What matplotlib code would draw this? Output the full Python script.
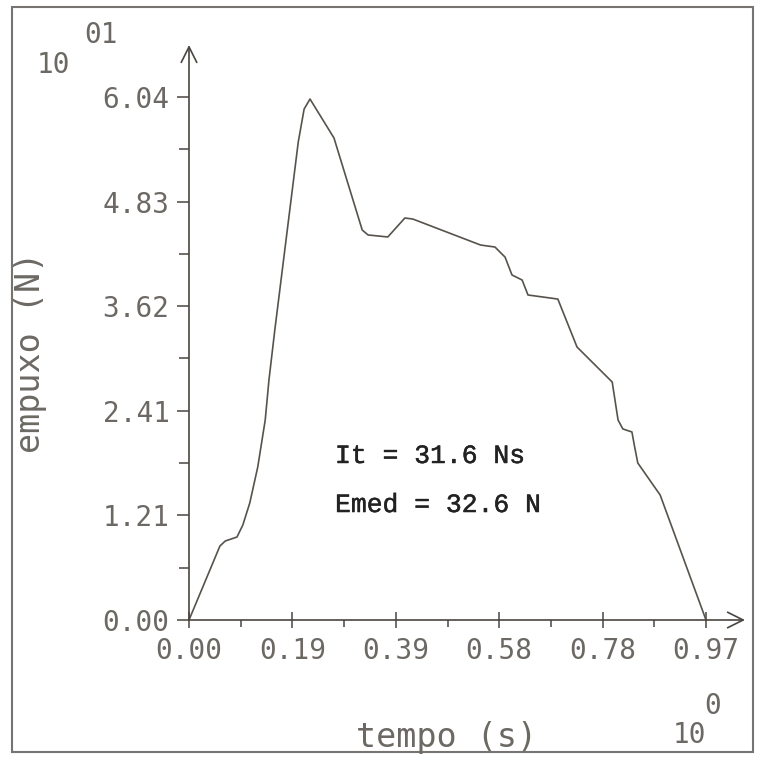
import matplotlib.pyplot as plt
import matplotlib.patheffects as pe
from matplotlib.patches import Rectangle

# thrust curve, time in s, thrust in units of 10 N
tempo = [0.000, 0.058, 0.068, 0.090, 0.101, 0.114, 0.129, 0.143, 0.150, 0.161,
         0.205, 0.216, 0.227, 0.272, 0.325, 0.336, 0.373, 0.405, 0.420, 0.547,
         0.574, 0.593, 0.606, 0.625, 0.636, 0.692, 0.728, 0.794, 0.805, 0.814,
         0.831, 0.836, 0.842, 0.884, 0.970]
empuxo = [0.000, 0.854, 0.912, 0.958, 1.097, 1.351, 1.767, 2.309, 2.771, 3.349,
          5.520, 5.900, 6.016, 5.566, 4.503, 4.446, 4.423, 4.642, 4.630, 4.330,
          4.307, 4.190, 3.984, 3.926, 3.753, 3.706, 3.152, 2.748, 2.309, 2.206,
          2.171, 2.002, 1.813, 1.443, 0.000]

xticks = [0.0, 0.194, 0.388, 0.582, 0.776, 0.970]
xlabels = ["0.00", "0.19", "0.39", "0.58", "0.78", "0.97"]
yticks = [0.0, 1.208, 2.416, 3.624, 4.832, 6.040]
ylabels = ["0.00", "1.21", "2.41", "3.62", "4.83", "6.04"]

gray = "#6c6864"
mono = "DejaVu Sans Mono"

fig = plt.figure(figsize=(7.58, 7.61), dpi=100)
ax = fig.add_axes([189 / 758, 141 / 761, 561 / 758, 580 / 761])

ax.plot(tempo, empuxo, color="#57524c", lw=1.2, clip_on=False)

ax.set_xlim(0, 561 / 533)
ax.set_ylim(0, 580 / 86.6)
for s in ax.spines.values():
    s.set_visible(False)

# axis lines with open arrow heads
ax.annotate("", xy=(556 / 561, 0), xytext=(0, 0), xycoords="axes fraction",
            arrowprops=dict(arrowstyle="->", color="#4a4540", lw=1.2,
                            mutation_scale=28, shrinkA=0, shrinkB=0))
ax.annotate("", xy=(0, 575 / 580), xytext=(0, 0), xycoords="axes fraction",
            arrowprops=dict(arrowstyle="->", color="#4a4540", lw=1.2,
                            mutation_scale=28, shrinkA=0, shrinkB=0))

ax.set_xticks(xticks)
ax.set_xticklabels(xlabels)
ax.set_xticks([(a + b) / 2 for a, b in zip(xticks[:-1], xticks[1:])], minor=True)
ax.set_yticks(yticks)
ax.set_yticklabels(ylabels)
ax.set_yticks([(a + b) / 2 for a, b in zip(yticks[:-1], yticks[1:])], minor=True)

ax.tick_params(axis="x", which="major", direction="inout", length=12,
               width=1.1, color="#4a4540", pad=6)
ax.tick_params(axis="x", which="minor", direction="out", length=5,
               width=1.1, color="#4a4540")
ax.tick_params(axis="y", which="major", direction="out", length=9,
               width=1.1, color="#4a4540", pad=5)
ax.tick_params(axis="y", which="minor", direction="out", length=7,
               width=1.1, color="#4a4540")
for lab in ax.get_xticklabels() + ax.get_yticklabels():
    lab.set_family(mono)
    lab.set_fontsize(20)
    lab.set_color(gray)

thick = [pe.withStroke(linewidth=0.35, foreground="#222222")]
ax.text(0.274, 1.813, "It = 31.6 Ns", family="Liberation Mono", fontsize=19,
        color="#222222", path_effects=thick)
ax.text(0.274, 1.247, "Emed = 32.6 N", family="Liberation Mono", fontsize=19,
        color="#222222", path_effects=thick)

# axis titles and exponent markers in figure pixels
def ftext(px, py, s, size, **kw):
    fig.text(px / 758, 1 - py / 761, s, family=mono, fontsize=size, color=gray,
             ha="center", va="center", **kw)

ftext(447, 737, "tempo (s)", 24)
ftext(31, 352, "empuxo (N)", 24, rotation=90)
ftext(53, 65, "10", 20)
ftext(101, 35, "01", 20)
ftext(689, 735, "10", 20)
ftext(713, 706, "0", 20)

fig.patches.append(Rectangle((12 / 758, 1 - 752 / 761), 741 / 758, 745 / 761,
                             transform=fig.transFigure, fill=False,
                             ec="#777370", lw=1.5))

fig.savefig("out.png", dpi=100)
